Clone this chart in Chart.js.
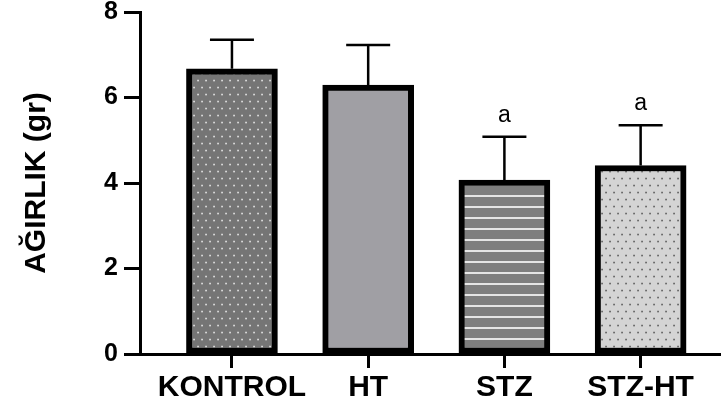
<!DOCTYPE html>
<html>
<head>
<meta charset="utf-8">
<script src="https://cdn.jsdelivr.net/npm/chart.js@4"></script>
<style>
  html, body { margin: 0; padding: 0; background: #fff; }
  #wrap { width: 721px; height: 412px; }
</style>
</head>
<body>
<div id="wrap"><canvas id="chartjs-0" width="721" height="412"></canvas></div>
<script>
// values
var groups = ["KONTROL", "HT", "STZ", "STZ-HT"];
var means = [6.67, 6.29, 4.07, 4.41];
var errors = [0.68, 0.94, 1.01, 0.94];
var marks = ["", "", "a", "a"];
var yTicks = [0, 2, 4, 6, 8];

function dotPattern(bg, fg, dx, dy) {
    var c = document.createElement("canvas");
    c.width = dx; c.height = dy * 2;
    var g = c.getContext("2d");
    g.fillStyle = bg;
    g.fillRect(0, 0, c.width, c.height);
    g.fillStyle = fg;
    g.fillRect(dx / 4 - 0.75, dy / 2 - 0.75, 1.6, 1.6);
    g.fillRect(dx * 3 / 4 - 0.75, dy * 1.5 - 0.75, 1.6, 1.6);
    return g.createPattern(c, "repeat");
}

function stripePattern(bg, fg, step) {
    var c = document.createElement("canvas");
    c.width = 4; c.height = step;
    var g = c.getContext("2d");
    g.fillStyle = bg;
    g.fillRect(0, 0, 4, step);
    g.fillStyle = fg;
    g.fillRect(0, step - 3, 4, 2);
    return g.createPattern(c, "repeat");
}

var fills = [
    dotPattern("#757575", "#e8e8e8", 8, 7),
    "#a09fa4",
    stripePattern("#7e7e7e", "#e4e4e4", 11),
    dotPattern("#d4d4d4", "#5a5a5a", 8, 7)
];

var errorBars = {
    id: "errorBars",
    afterDatasetsDraw: function (chart) {
        var ctx = chart.ctx, xs = chart.scales.x, ys = chart.scales.y;
        ctx.save();
        ctx.strokeStyle = "#000";
        ctx.lineWidth = 2.5;
        ctx.fillStyle = "#000";
        ctx.font = "23px 'Liberation Sans', Arial, sans-serif";
        ctx.textAlign = "center";
        ctx.textBaseline = "alphabetic";
        for (var i = 0; i < means.length; i++) {
            var px = xs.getPixelForValue(i);
            var base = ys.getPixelForValue(means[i]);
            var top = ys.getPixelForValue(means[i] + errors[i]);
            ctx.beginPath();
            ctx.moveTo(px, base);
            ctx.lineTo(px, top);
            ctx.moveTo(px - 22, top);
            ctx.lineTo(px + 22, top);
            ctx.stroke();
            if (marks[i]) {
                ctx.fillText(marks[i], px, top - 15);
            }
        }
        ctx.restore();
    }
};

var ctx0 = document.getElementById("chartjs-0");
var myChart = new Chart(ctx0, {
    type: "bar",
    data: {
        datasets: [{
            data: groups.map(function (g, i) { return { x: i, y: means[i] }; }),
            backgroundColor: fills,
            borderColor: "#000",
            borderWidth: 6,
            borderSkipped: false,
            barThickness: 91
        }]
    },
    options: {
        responsive: false,
        animation: false,
        layout: { padding: { top: 12, right: 0, bottom: 0, left: 0 } },
        plugins: {
            legend: { display: false },
            tooltip: { enabled: false }
        },
        scales: {
            x: {
                type: "linear",
                offset: false,
                min: -0.675,
                max: 3.59,
                afterBuildTicks: function (s) {
                    s.ticks = groups.map(function (g, i) { return { value: i }; });
                },
                afterFit: function (s) { s.height = 58; },
                ticks: {
                    color: "#000",
                    padding: 2,
                    maxRotation: 0,
                    autoSkip: false,
                    font: { family: "'Liberation Sans', Arial, sans-serif", size: 30, weight: "bold" },
                    callback: function (v) { return groups[v] || ""; }
                },
                grid: { offset: false, drawOnChartArea: false, tickLength: 14, tickWidth: 3, tickColor: "#000" },
                border: { display: true, width: 3, color: "#000" }
            },
            y: {
                min: 0,
                max: 8,
                afterBuildTicks: function (s) {
                    s.ticks = yTicks.map(function (v) { return { value: v }; });
                },
                afterFit: function (s) {
                    s.width = 140;
                    s.paddingTop = 0;
                    s.paddingBottom = 0;
                },
                ticks: {
                    color: "#000",
                    padding: 6,
                    font: { family: "'Liberation Sans', Arial, sans-serif", size: 25, weight: "bold" }
                },
                grid: { drawOnChartArea: false, tickLength: 16, tickWidth: 3, tickColor: "#000" },
                border: { display: true, width: 3, color: "#000" },
                title: {
                    display: true,
                    text: "AĞIRLIK (gr)",
                    color: "#000",
                    padding: { top: 22, bottom: 0 },
                    font: { family: "'Liberation Sans', Arial, sans-serif", size: 30, weight: "bold", lineHeight: 1 }
                }
            }
        }
    },
    plugins: [errorBars]
});
</script>
</body>
</html>
